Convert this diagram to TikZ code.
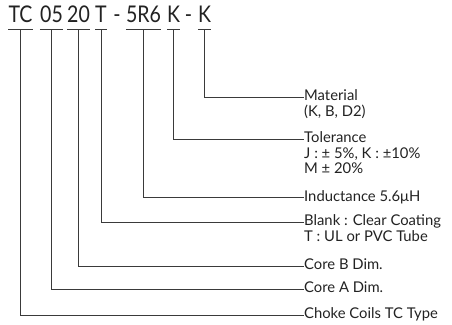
\documentclass[tikz,border=0pt]{standalone}
\usepackage{fontspec}
\setmainfont{Lato}
\newfontfamily\codefont[FakeStretch=0.85]{Lato}
\usetikzlibrary{calc}
\definecolor{ink}{HTML}{222222}
\definecolor{wire}{HTML}{3A3A3A}
\begin{document}
\begin{tikzpicture}[x=1pt,y=-1pt,
  code/.style={inner sep=0pt,anchor=base,font=\codefont\fontsize{23}{24}\selectfont,text=ink},
  lab/.style={inner sep=0pt,anchor=north west,align=left,font=\fontsize{14.8}{15.6}\selectfont,text=ink},
  wirel/.style={draw=wire,line width=0.9pt},
  ul/.style={draw=wire,line width=1pt}]
\useasboundingbox (0,0) rectangle (452,324);
% code segments
\node[code] (t1) at (20.5,22.5) {TC};
\node[code] (t2) at (51.5,22.5) {05};
\node[code] (t3) at (78.5,22.5) {20};
\node[code] (t4) at (101,22.5) {T};
\node[code] (d1) at (117,22.5) {-};
\node[code] (t5) at (143.5,22.5) {5R6};
\node[code] (t6) at (173.5,22.5) {K};
\node[code] (d2) at (188.5,22.5) {-};
\node[code] (t7) at (204.5,22.5) {K};
% underlines
\foreach \n in {t1,t2,t3,t4,t5,t6,t7}{
  \draw[ul] ([yshift=-6.5pt]\n.base west) -- ([yshift=-6.5pt]\n.base east);
  \coordinate (u\n) at ([yshift=-6.5pt]\n.base);
}
% labels
\node[lab] (L7) at (304,89.5) {Material\\(K, B, D2)};
\node[lab] (L6) at (304,131.5) {Tolerance\\J : ± 5\%, K : ±10\%\\M ± 20\%};
\node[lab] (L5) at (304,190) {Inductance 5.6μH};
\node[lab] (L4) at (304,214.5) {Blank : Clear Coating\\T : UL or PVC Tube};
\node[lab] (L3) at (304,258.5) {Core B Dim.};
\node[lab] (L2) at (304,281.5) {Core A Dim.};
\node[lab] (L1) at (304,307.5) {Choke Coils TC Type};
% connectors
\draw[wirel] (ut7) |- ([yshift=-7.7pt]L7.north west);
\draw[wirel] (ut6) |- ([yshift=-7.7pt]L6.north west);
\draw[wirel] (ut5) |- ([yshift=-7.7pt]L5.north west);
\draw[wirel] (ut4) |- ([yshift=-7.7pt]L4.north west);
\draw[wirel] (ut3) |- ([yshift=-7.7pt]L3.north west);
\draw[wirel] (ut2) |- ([yshift=-7.7pt]L2.north west);
\draw[wirel] (ut1) |- ([yshift=-7.7pt]L1.north west);
\end{tikzpicture}
\end{document}
